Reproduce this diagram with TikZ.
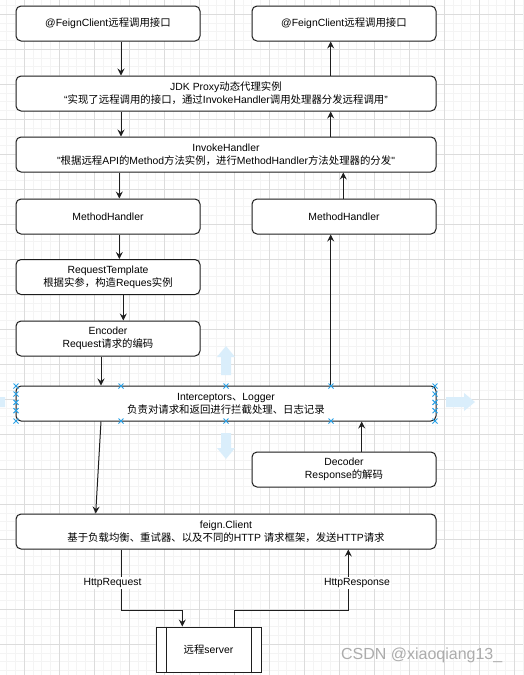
\documentclass[tikz,border=0pt]{standalone}
\usepackage{fontspec}
\setmainfont{Liberation Sans}
\newfontfamily\latfont{Liberation Sans}
\newfontfamily\cjkfont{Noto Sans CJK SC}
% switch to the CJK font for Chinese characters
\XeTeXinterchartokenstate=1
\newXeTeXintercharclass\cjkcls
\newcount\cjkcnt
\cjkcnt="3000
\loop \XeTeXcharclass\cjkcnt=\cjkcls \advance\cjkcnt by 1 \ifnum\cjkcnt<"A000 \repeat
\cjkcnt="FF00
\loop \XeTeXcharclass\cjkcnt=\cjkcls \advance\cjkcnt by 1 \ifnum\cjkcnt<"FFF0 \repeat
\XeTeXinterchartoks 0 \cjkcls = {\cjkfont}
\XeTeXinterchartoks 4095 \cjkcls = {\cjkfont}
\XeTeXinterchartoks \cjkcls 0 = {\latfont}
\XeTeXinterchartoks 4095 0 = {\latfont}
\usetikzlibrary{arrows.meta}
\definecolor{gridmajor}{RGB}{220,220,220}
\definecolor{gridminor}{RGB}{244,244,244}
\definecolor{selblue}{RGB}{41,160,230}
\definecolor{hintblue}{RGB}{218,238,251}
\definecolor{linegray}{RGB}{30,30,30}

\begin{document}
\begin{tikzpicture}[x=1pt, y=-1pt,
    box/.style={draw=linegray, line width=1pt, rounded corners=5pt, fill=white,
        align=center, inner sep=0pt, font=\fontsize{10.4}{13}\selectfont},
    wide/.style={box, minimum width=420pt, minimum height=35pt},
    half/.style={box, minimum width=184pt, minimum height=35pt},
    flow/.style={draw=linegray, line width=1pt, -{Stealth[length=7pt,width=7pt,inset=2.5pt]}},
    lbl/.style={fill=white, inner sep=1pt, font=\fontsize{10.4}{13}\selectfont}]
    \useasboundingbox (0,0) rectangle (523,675);

    % Background grid
    \fill[white] (0,0) rectangle (523,675);
    \foreach \i in {-3,...,60} {
        \draw[gridminor, line width=0.8pt] (24.3+8.75*\i, 0) -- (24.3+8.75*\i, 675);
    }
    \foreach \i in {-2,...,77} {
        \draw[gridminor, line width=0.8pt] (0, 14.3+8.75*\i) -- (523, 14.3+8.75*\i);
    }
    \foreach \i in {0,...,14} {
        \draw[gridmajor, line width=0.8pt] (24.3+35*\i, 0) -- (24.3+35*\i, 675);
    }
    \foreach \i in {0,...,19} {
        \draw[gridmajor, line width=0.8pt] (0, 14.3+35*\i) -- (523, 14.3+35*\i);
    }

    % Hover arrows round the selected box
    \fill[hintblue] (226,346) -- (235,357) -- (231,357) -- (231,375) -- (221,375) -- (221,357) -- (217,357) -- cycle;
    \fill[hintblue] (226,459) -- (235,448) -- (231,448) -- (231,433) -- (221,433) -- (221,448) -- (217,448) -- cycle;
    \fill[hintblue] (475,402) -- (464,393) -- (464,397) -- (446,397) -- (446,407) -- (464,407) -- (464,411) -- cycle;
    \fill[hintblue] (-20,402) -- (-9,393) -- (-9,397) -- (5,397) -- (5,407) -- (-9,407) -- (-9,411) -- cycle;

    % Boxes
    \node[half] (top1) at (108,23.5) {@FeignClient远程调用接口};
    \node[half] (top2) at (344,23.5) {@FeignClient远程调用接口};
    \node[wide] (proxy) at (226,93.5) {JDK Proxy动态代理实例\\“实现了远程调用的接口，通过InvokeHandler调用处理器分发远程调用”};
    \node[wide] (invoke) at (226,154.5) {InvokeHandler\\"根据远程API的Method方法实例，进行MethodHandler方法处理器的分发"};
    \node[half] (mhl) at (108,216.5) {MethodHandler};
    \node[half] (mhr) at (344,216.5) {MethodHandler};
    \node[half] (tmpl) at (108,277) {RequestTemplate\\根据实参，构造Reques实例};
    \node[half] (enc) at (108,338.5) {Encoder\\Request请求的编码};
    \node[wide] (inter) at (226,403.5) {Interceptors、Logger\\负责对请求和返回进行拦截处理、日志记录};
    \node[half] (dec) at (344,469.5) {Decoder\\Response的解码};
    \node[wide] (client) at (226,531.5) {feign.Client\\基于负载均衡、重试器、以及不同的HTTP 请求框架，发送HTTP请求};
    \node[box, rounded corners=0pt, minimum width=105pt, minimum height=45pt] (server) at (208.5,649.5) {远程server};
    \draw[linegray, line width=1pt] ([xshift=10.5pt]server.north west) -- ([xshift=10.5pt]server.south west);
    \draw[linegray, line width=1pt] ([xshift=-10.5pt]server.north east) -- ([xshift=-10.5pt]server.south east);

    % Columns of the connectors
    \coordinate (cA) at (121,0);
    \coordinate (cB) at (330.7,0);
    \coordinate (cC) at (119.3,0);
    \coordinate (cD) at (343.3,0);
    \coordinate (cE) at (123.3,0);
    \coordinate (cF) at (101,0);
    \coordinate (cG) at (361.7,0);
    \coordinate (cH) at (95.7,0);
    \coordinate (cI) at (182.3,0);
    \coordinate (cJ) at (234.7,0);
    \coordinate (cK) at (348.3,0);
    \coordinate (turn) at (0,610);

    % Connectors
    \draw[flow] (cA |- top1.south) -- (cA |- proxy.north);
    \draw[flow] (cB |- proxy.north) -- (cB |- top2.south);
    \draw[flow] (cA |- proxy.south) -- (cA |- invoke.north);
    \draw[flow] (cB |- invoke.north) -- (cB |- proxy.south);
    \draw[flow] (cC |- invoke.south) -- (cC |- mhl.north);
    \draw[flow] (cD |- mhr.north) -- (cD |- invoke.south);
    \draw[flow] (cC |- mhl.south) -- (cC |- tmpl.north);
    \draw[flow] (cE |- tmpl.south) -- (cE |- enc.north);
    \draw[flow] (cF |- enc.south) -- (cF |- inter.north);
    \draw[flow] (cB |- inter.north) -- (cB |- mhr.south);
    \draw[flow] (cG |- dec.north) -- (cG |- inter.south);
    \draw[flow] (cF |- inter.south) -- (cH |- client.north);
    \draw[flow] (cA |- client.south) -- (cA |- turn) -| (cI |- server.north);
    \draw[flow] (cJ |- server.north) -- (cJ |- turn) -| (cK |- client.south);

    % Labels
    \node[lbl] (req) at (112.5,583) {HttpRequest};
    \node[lbl] (resp) at (357,583) {HttpResponse};

    % Selection handles
    \foreach \x/\y in {121/386, 226/386, 331/386, 121/421, 226/421, 331/421,
                       16/386, 16/394, 16/402.3, 16/410.7, 16/421,
                       435/386, 435/394, 435/402.3, 435/410.7, 435/421} {
        \draw[selblue, line width=1pt] (\x-2.5,\y-2.5) -- (\x+2.5,\y+2.5) (\x-2.5,\y+2.5) -- (\x+2.5,\y-2.5);
    }

    % Watermark
    \node[font=\fontsize{16}{16}\selectfont, text=gray!65] (mark) at (421.7,655) {CSDN @xiaoqiang13\_};
\end{tikzpicture}
\end{document}
